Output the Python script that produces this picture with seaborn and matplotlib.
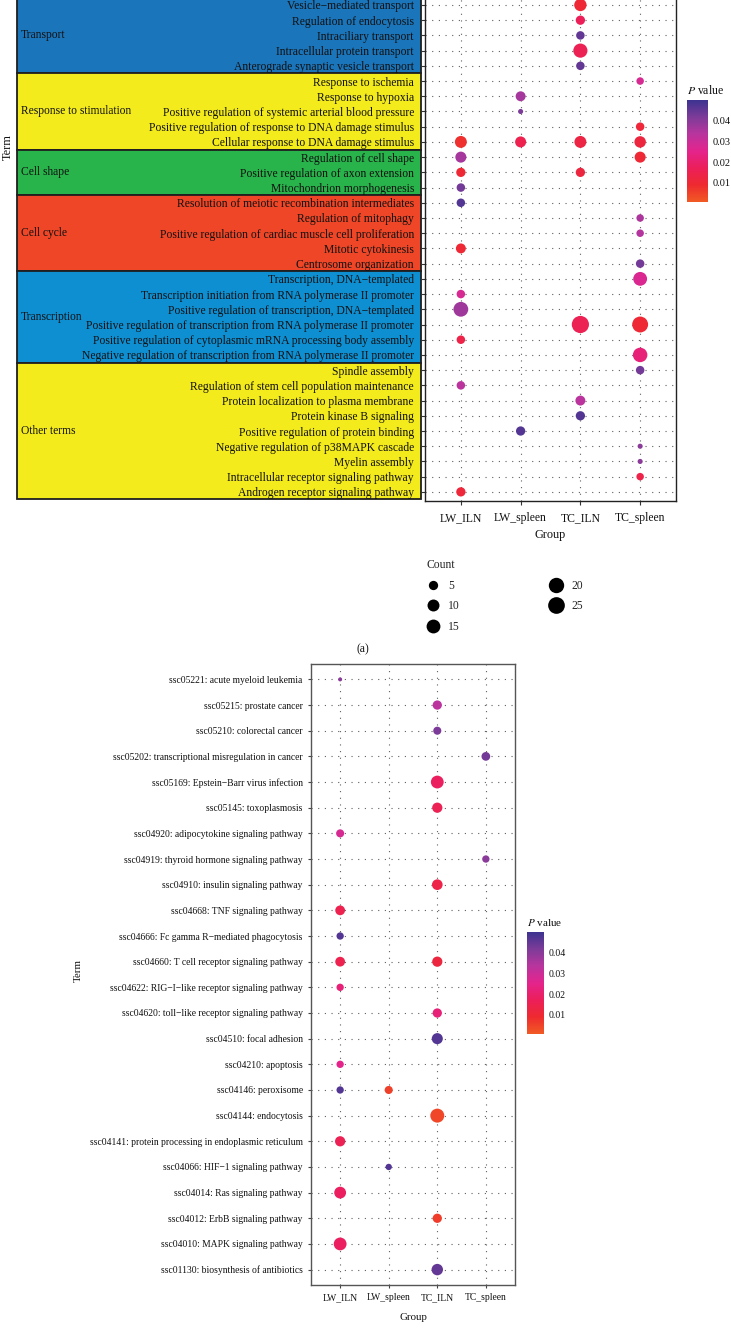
import numpy as np
import pandas as pd
import seaborn as sns
import matplotlib.pyplot as plt
from matplotlib.colors import LinearSegmentedColormap, Normalize
from matplotlib.cm import ScalarMappable
from matplotlib.lines import Line2D
from matplotlib.patches import Rectangle

groups = ["LW_ILN", "LW_spleen", "TC_ILN", "TC_spleen"]

# ---- (a) GO terms, listed top to bottom ----
go_terms = [
    "Vesicle−mediated transport", "Regulation of endocytosis", "Intraciliary transport",
    "Intracellular protein transport", "Anterograde synaptic vesicle transport",
    "Response to ischemia", "Response to hypoxia",
    "Positive regulation of systemic arterial blood pressure",
    "Positive regulation of response to DNA damage stimulus",
    "Cellular response to DNA damage stimulus",
    "Regulation of cell shape", "Positive regulation of axon extension", "Mitochondrion morphogenesis",
    "Resolution of meiotic recombination intermediates", "Regulation of mitophagy",
    "Positive regulation of cardiac muscle cell proliferation", "Mitotic cytokinesis",
    "Centrosome organization",
    "Transcription, DNA−templated", "Transcription initiation from RNA polymerase II promoter",
    "Positive regulation of transcription, DNA−templated",
    "Positive regulation of transcription from RNA polymerase II promoter",
    "Positive regulation of cytoplasmic mRNA processing body assembly",
    "Negative regulation of transcription from RNA polymerase II promoter",
    "Spindle assembly", "Regulation of stem cell population maintenance",
    "Protein localization to plasma membrane", "Protein kinase B signaling",
    "Positive regulation of protein binding", "Negative regulation of p38MAPK cascade",
    "Myelin assembly", "Intracellular receptor signaling pathway",
    "Androgen receptor signaling pathway",
]
go_categories = ["Transport", "Response to stimulation", "Cell shape", "Cell cycle", "Transcription", "Other terms"]
go_category_sizes = [5, 5, 3, 5, 6, 9]
go_category_colors = ["#1B75BB", "#F4EB1C", "#28B34B", "#EE4627", "#0E8FD2", "#F4EB1C"]

go_term = [
    "Vesicle−mediated transport", "Regulation of endocytosis", "Intraciliary transport",
    "Intracellular protein transport", "Anterograde synaptic vesicle transport",
    "Response to ischemia", "Response to hypoxia",
    "Positive regulation of systemic arterial blood pressure",
    "Positive regulation of response to DNA damage stimulus",
    "Cellular response to DNA damage stimulus", "Cellular response to DNA damage stimulus",
    "Cellular response to DNA damage stimulus", "Cellular response to DNA damage stimulus",
    "Regulation of cell shape", "Regulation of cell shape",
    "Positive regulation of axon extension", "Positive regulation of axon extension",
    "Mitochondrion morphogenesis", "Resolution of meiotic recombination intermediates",
    "Regulation of mitophagy", "Positive regulation of cardiac muscle cell proliferation",
    "Mitotic cytokinesis", "Centrosome organization",
    "Transcription, DNA−templated", "Transcription initiation from RNA polymerase II promoter",
    "Positive regulation of transcription, DNA−templated",
    "Positive regulation of transcription from RNA polymerase II promoter",
    "Positive regulation of transcription from RNA polymerase II promoter",
    "Positive regulation of cytoplasmic mRNA processing body assembly",
    "Negative regulation of transcription from RNA polymerase II promoter",
    "Spindle assembly", "Regulation of stem cell population maintenance",
    "Protein localization to plasma membrane", "Protein kinase B signaling",
    "Positive regulation of protein binding", "Negative regulation of p38MAPK cascade",
    "Myelin assembly", "Intracellular receptor signaling pathway",
    "Androgen receptor signaling pathway",
]
go_group = [
    "TC_ILN", "TC_ILN", "TC_ILN", "TC_ILN", "TC_ILN",
    "TC_spleen", "LW_spleen", "LW_spleen", "TC_spleen",
    "LW_ILN", "LW_spleen", "TC_ILN", "TC_spleen",
    "LW_ILN", "TC_spleen", "LW_ILN", "TC_ILN",
    "LW_ILN", "LW_ILN", "TC_spleen", "TC_spleen", "LW_ILN", "TC_spleen",
    "TC_spleen", "LW_ILN", "LW_ILN", "TC_ILN", "TC_spleen", "LW_ILN", "TC_spleen",
    "TC_spleen", "LW_ILN", "TC_ILN", "TC_ILN", "LW_spleen", "TC_spleen",
    "TC_spleen", "TC_spleen", "LW_ILN",
]
go_count = [11, 5, 4, 16, 4, 3, 6, 2, 4, 10, 8, 10, 9, 8, 8, 5, 5, 4, 4, 3, 3, 6, 4,
            15, 4, 18, 27, 22, 4, 17, 4, 4, 6, 5, 5, 2, 2, 3, 5]
go_pvalue = [0.010, 0.017, 0.045, 0.016, 0.045, 0.028, 0.036, 0.042, 0.011,
             0.008, 0.015, 0.013, 0.012, 0.036, 0.010, 0.010, 0.012,
             0.043, 0.047, 0.035, 0.034, 0.010, 0.043,
             0.027, 0.028, 0.037, 0.016, 0.010, 0.014, 0.022,
             0.043, 0.033, 0.033, 0.047, 0.047, 0.040, 0.040, 0.014, 0.011]

count_legend = [5, 10, 15, 20, 25]

# ---- (b) KEGG pathways, listed top to bottom ----
kegg_terms = [
    "ssc05221: acute myeloid leukemia", "ssc05215: prostate cancer", "ssc05210: colorectal cancer",
    "ssc05202: transcriptional misregulation in cancer", "ssc05169: Epstein−Barr virus infection",
    "ssc05145: toxoplasmosis", "ssc04920: adipocytokine signaling pathway",
    "ssc04919: thyroid hormone signaling pathway", "ssc04910: insulin signaling pathway",
    "ssc04668: TNF signaling pathway", "ssc04666: Fc gamma R−mediated phagocytosis",
    "ssc04660: T cell receptor signaling pathway", "ssc04622: RIG−I−like receptor signaling pathway",
    "ssc04620: toll−like receptor signaling pathway", "ssc04510: focal adhesion",
    "ssc04210: apoptosis", "ssc04146: peroxisome", "ssc04144: endocytosis",
    "ssc04141: protein processing in endoplasmic reticulum", "ssc04066: HIF−1 signaling pathway",
    "ssc04014: Ras signaling pathway", "ssc04012: ErbB signaling pathway",
    "ssc04010: MAPK signaling pathway", "ssc01130: biosynthesis of antibiotics",
]
kegg_term = [
    "ssc05221: acute myeloid leukemia", "ssc05215: prostate cancer", "ssc05210: colorectal cancer",
    "ssc05202: transcriptional misregulation in cancer", "ssc05169: Epstein−Barr virus infection",
    "ssc05145: toxoplasmosis", "ssc04920: adipocytokine signaling pathway",
    "ssc04919: thyroid hormone signaling pathway", "ssc04910: insulin signaling pathway",
    "ssc04668: TNF signaling pathway", "ssc04666: Fc gamma R−mediated phagocytosis",
    "ssc04660: T cell receptor signaling pathway", "ssc04660: T cell receptor signaling pathway",
    "ssc04622: RIG−I−like receptor signaling pathway",
    "ssc04620: toll−like receptor signaling pathway", "ssc04510: focal adhesion",
    "ssc04210: apoptosis", "ssc04146: peroxisome", "ssc04146: peroxisome", "ssc04144: endocytosis",
    "ssc04141: protein processing in endoplasmic reticulum", "ssc04066: HIF−1 signaling pathway",
    "ssc04014: Ras signaling pathway", "ssc04012: ErbB signaling pathway",
    "ssc04010: MAPK signaling pathway", "ssc01130: biosynthesis of antibiotics",
]
kegg_group = [
    "LW_ILN", "TC_ILN", "TC_ILN", "TC_spleen", "TC_ILN", "TC_ILN", "LW_ILN", "TC_spleen",
    "TC_ILN", "LW_ILN", "LW_ILN", "LW_ILN", "TC_ILN", "LW_ILN", "TC_ILN", "TC_ILN",
    "LW_ILN", "LW_ILN", "LW_spleen", "TC_ILN", "LW_ILN", "LW_spleen", "LW_ILN", "TC_ILN",
    "LW_ILN", "TC_ILN",
]
kegg_count = [2, 7, 5, 6, 16, 9, 5, 4, 10, 8, 4, 8, 9, 4, 7, 11, 4, 4, 5, 20, 9, 3, 13, 7, 16, 12]
kegg_pvalue = [0.040, 0.033, 0.042, 0.043, 0.018, 0.016, 0.028, 0.040, 0.014, 0.015, 0.047,
               0.015, 0.012, 0.022, 0.022, 0.047, 0.025, 0.047, 0.005, 0.004, 0.016, 0.047,
               0.018, 0.006, 0.018, 0.045]

sns.set_theme(style="white")
plt.rcParams["font.family"] = ["Liberation Serif", "DejaVu Serif"]
plt.rcParams["mathtext.fontset"] = "stix"

W, H = 731, 1336
fig = plt.figure(figsize=(W / 100, H / 100), dpi=100)


def box(left, top, right, bottom):
    return [left / W, 1 - bottom / H, (right - left) / W, (bottom - top) / H]


def ftext(x, y, s, **kw):
    fig.text(x / W, 1 - y / H, s, ha=kw.pop("ha", "center"), va=kw.pop("va", "center"), **kw)


cmap = LinearSegmentedColormap.from_list(
    "pval", ["#F15A24", "#EE2A2F", "#EC1F5A", "#E4238D", "#B8359E", "#7E3B98", "#3C3391"])
norm = Normalize(0.0007, 0.050)


def dot_area(c, cmin, cmax, dmin, dmax):
    # ggplot-like size scale: diameter grows with sqrt of the rescaled count
    d = dmin + (dmax - dmin) * np.sqrt((c - cmin) / (cmax - cmin))
    return (d * 0.72) ** 2


def dot_panel(ax, terms, term, group, count, pvalue, size_rng, fs, spine_col):
    df = pd.DataFrame({"term": term, "group": group, "count": count, "pvalue": pvalue})
    df["x"] = pd.Categorical(df["group"], categories=groups).codes
    df["y"] = pd.Categorical(df["term"], categories=terms).codes
    sizes = {c: dot_area(c, *size_rng) for c in df["count"].unique()}
    sns.scatterplot(data=df, x="x", y="y", hue="pvalue", hue_norm=norm, palette=cmap,
                    size="count", sizes=sizes, linewidth=0, legend=False, ax=ax, zorder=3)
    ax.set_xlim(-0.6, 3.6)
    ax.set_ylim(len(terms) - 0.4, -0.6)
    ax.set_xticks(range(len(groups)))
    ax.set_xticklabels(groups, fontsize=fs)
    ax.set_yticks(range(len(terms)))
    ax.set_yticklabels(terms, fontsize=fs)
    ax.set_xlabel("")
    ax.set_ylabel("")
    ax.grid(True, linestyle=(0, (1, 5)), color="#5f5f5f", linewidth=0.8)
    ax.set_axisbelow(True)
    for s in ax.spines.values():
        s.set_color(spine_col)
        s.set_linewidth(1.0)


def pvalue_bar(cax, fs):
    cb = fig.colorbar(ScalarMappable(norm=norm, cmap=cmap), cax=cax)
    cb.set_ticks([0.01, 0.02, 0.03, 0.04])
    cb.set_ticklabels(["0.01", "0.02", "0.03", "0.04"])
    cb.outline.set_visible(False)
    cax.tick_params(axis="y", direction="in", length=3, width=0.8, colors="white",
                    left=True, right=True, labelsize=fs, labelcolor="#111111", pad=3)
    cax.set_title("$P$ value", loc="left", fontsize=fs + 1, pad=4, color="#111111")


# ---------- top panel (GO) ----------
ax_box = fig.add_axes(box(17, -4.15, 421, 501))
ax_box.set_xlim(0, 1)
ax_box.set_ylim(len(go_terms) - 0.4, -0.6)
ax_box.axis("off")
start = 0
for name, n, col in zip(go_categories, go_category_sizes, go_category_colors):
    ax_box.add_patch(Rectangle((0, start - 0.5), 1, n, facecolor=col, edgecolor="#1f1f1f",
                               linewidth=1.3, clip_on=False))
    ax_box.text(0.01, start + (n - 1) / 2, name, ha="left", va="center", fontsize=8.3, color="#111111")
    start += n

ax1 = fig.add_axes(box(425, -4.15, 676, 501))
dot_panel(ax1, go_terms, go_term, go_group, go_count, go_pvalue, (2, 27, 5.1, 17.2), 8.4, "#222222")
ax1.tick_params(axis="both", direction="out", length=3, width=0.8, color="#333333",
                labelcolor="#111111", bottom=True, left=True, pad=5)

cax1 = fig.add_axes(box(687, 100, 708, 202))
pvalue_bar(cax1, 7.5)

ftext(8, 147, "Term", rotation=90, fontsize=8.8, color="#111111")
ftext(550, 535, "Group", fontsize=8.8, color="#111111")

handles = [Line2D([], [], linestyle="none", marker="o", markerfacecolor="black",
                  markeredgewidth=0, markersize=np.sqrt(dot_area(c, 2, 27, 5.1, 17.2)))
           for c in count_legend]
fig.legend(handles, [str(c) for c in count_legend], title="Count", ncol=2, loc="upper left",
           bbox_to_anchor=(421 / W, 1 - 553 / H), frameon=False, fontsize=8.4, title_fontsize=8.4,
           handlelength=1.0, handletextpad=0.8, columnspacing=7.8, labelspacing=0.75,
           borderpad=0, alignment="left")

ftext(363, 649, "(a)", fontsize=8.4, color="#111111")

# ---------- bottom panel (KEGG) ----------
ax2 = fig.add_axes(box(311, 664, 515, 1285))
dot_panel(ax2, kegg_terms, kegg_term, kegg_group, kegg_count, kegg_pvalue, (2, 20, 4.0, 14.0), 6.9, "#555555")
ax2.tick_params(axis="both", direction="out", length=2.5, width=0.8, color="#444444",
                labelcolor="#111111", bottom=True, left=True, pad=3.5)

cax2 = fig.add_axes(box(527, 932, 544, 1034))
pvalue_bar(cax2, 7)

ftext(78, 970, "Term", rotation=90, fontsize=7.8, color="#111111")
ftext(413, 1318, "Group", fontsize=7.8, color="#111111")

fig.savefig("out.png", dpi=100)
